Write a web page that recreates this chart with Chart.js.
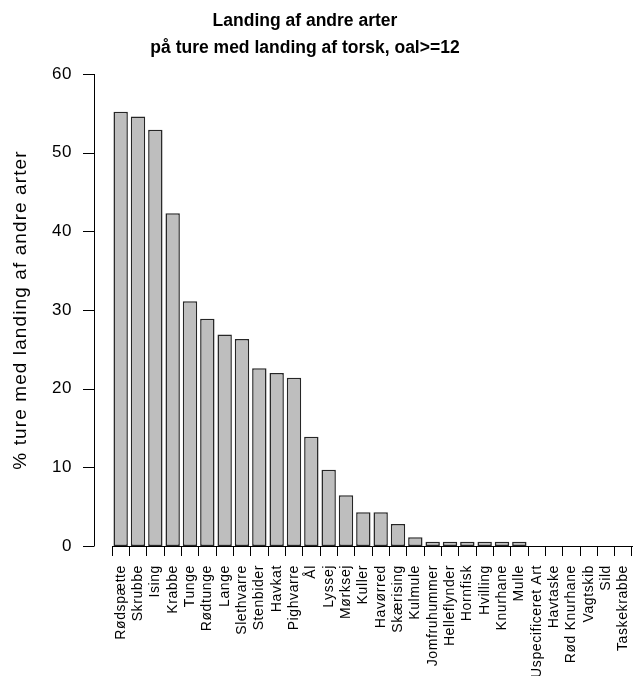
<!DOCTYPE html>
<html>
<head>
<meta charset="utf-8">
<script src="https://cdn.jsdelivr.net/npm/chart.js@4/dist/chart.umd.min.js"></script>
<style>
  html, body { margin: 0; padding: 0; background: #fff; }
  #wrap { width: 634px; height: 676px; }
</style>
</head>
<body>
<div id="wrap"><canvas id="chart" width="634" height="676"></canvas></div>
<script>
// species (sorted by share) and % of trips
const species = ['Rødspætte', 'Skrubbe', 'Ising', 'Krabbe', 'Tunge', 'Rødtunge', 'Lange', 'Slethvarre',
  'Stenbider', 'Havkat', 'Pighvarre', 'Ål', 'Lyssej', 'Mørksej', 'Kuller', 'Havørred', 'Skærising',
  'Kulmule', 'Jomfruhummer', 'Helleflynder', 'Hornfisk', 'Hvilling', 'Knurhane', 'Mulle',
  'Uspecificeret Art', 'Havtaske', 'Rød Knurhane', 'Vagtskib', 'Sild', 'Taskekrabbe'];
const pctTrips = [55.2, 54.6, 52.9, 42.3, 31.1, 28.9, 26.9, 26.3, 22.6, 22.0, 21.4, 13.9, 9.7, 6.45,
  4.3, 4.3, 2.8, 1.1, 0.55, 0.55, 0.55, 0.55, 0.55, 0.55, 0, 0, 0, 0, 0, 0];
const yTicks = [0, 10, 20, 30, 40, 50, 60];

const titleLines = ['Landing af andre arter', 'på ture med landing af torsk, oal>=12'];
const yTitle = '% ture med landing af andre arter';
const FONT = '"Liberation Sans", Arial, sans-serif';

// R-style axes, title and y label
const rDecor = {
  id: 'rDecor',
  beforeDraw(chart) {
    chart.ctx.letterSpacing = '0.6px';
  },
  afterDraw(chart) {
    const ctx = chart.ctx;
    const y = chart.scales.y;
    const axX = 94;
    ctx.save();
    ctx.strokeStyle = '#000';
    ctx.lineWidth = 1;
    ctx.beginPath();
    ctx.moveTo(axX + 0.5, y.getPixelForValue(60));
    ctx.lineTo(axX + 0.5, y.getPixelForValue(0));
    yTicks.forEach(v => {
      const py = Math.round(y.getPixelForValue(v)) + 0.5;
      ctx.moveTo(axX + 0.5, py);
      ctx.lineTo(axX - 11, py);
    });
    ctx.stroke();

    // title
    ctx.letterSpacing = '0px';
    ctx.fillStyle = '#000';
    ctx.textAlign = 'center';
    ctx.textBaseline = 'alphabetic';
    ctx.font = 'bold 17.5px ' + FONT;
    ctx.fillText(titleLines[0], 305, 26);
    ctx.fillText(titleLines[1], 305, 53);

    // y title
    ctx.letterSpacing = '1.1px';
    ctx.font = '19px ' + FONT;
    ctx.translate(21, 310);
    ctx.rotate(-Math.PI / 2);
    ctx.textBaseline = 'middle';
    ctx.fillText(yTitle, 0, 0);
    ctx.restore();
    ctx.letterSpacing = '0px';
  }
};

new Chart(document.getElementById('chart'), {
  type: 'bar',
  data: {
    labels: species,
    datasets: [{
      data: pctTrips,
      backgroundColor: '#bebebe',
      borderColor: '#262626',
      borderWidth: 1.5,
      borderSkipped: false,
      categoryPercentage: 1,
      barPercentage: 0.83
    }]
  },
  options: {
    responsive: false,
    animation: false,
    layout: { padding: { top: 74, right: 2, left: 0, bottom: 0 } },
    plugins: {
      legend: { display: false },
      tooltip: { enabled: false },
      title: { display: false }
    },
    scales: {
      x: {
        grid: { display: true, drawOnChartArea: false, color: '#000', tickLength: 10, tickWidth: 1 },
        border: { display: true, color: '#000', width: 1 },
        ticks: {
          color: '#000',
          font: { family: FONT, size: 14 },
          minRotation: 90,
          maxRotation: 90,
          autoSkip: false,
          padding: 9
        },
        afterFit(scale) {
          scale.height = 130;
          scale.paddingLeft = 0;
          scale.paddingRight = 0;
        }
      },
      y: {
        min: 0,
        max: 60,
        grid: { display: false, drawTicks: false },
        border: { display: false },
        ticks: {
          stepSize: 10,
          color: '#000',
          font: { family: FONT, size: 17 },
          padding: 40
        },
        afterFit(scale) { scale.width = 112; }
      }
    }
  },
  plugins: [rDecor]
});
</script>
</body>
</html>
